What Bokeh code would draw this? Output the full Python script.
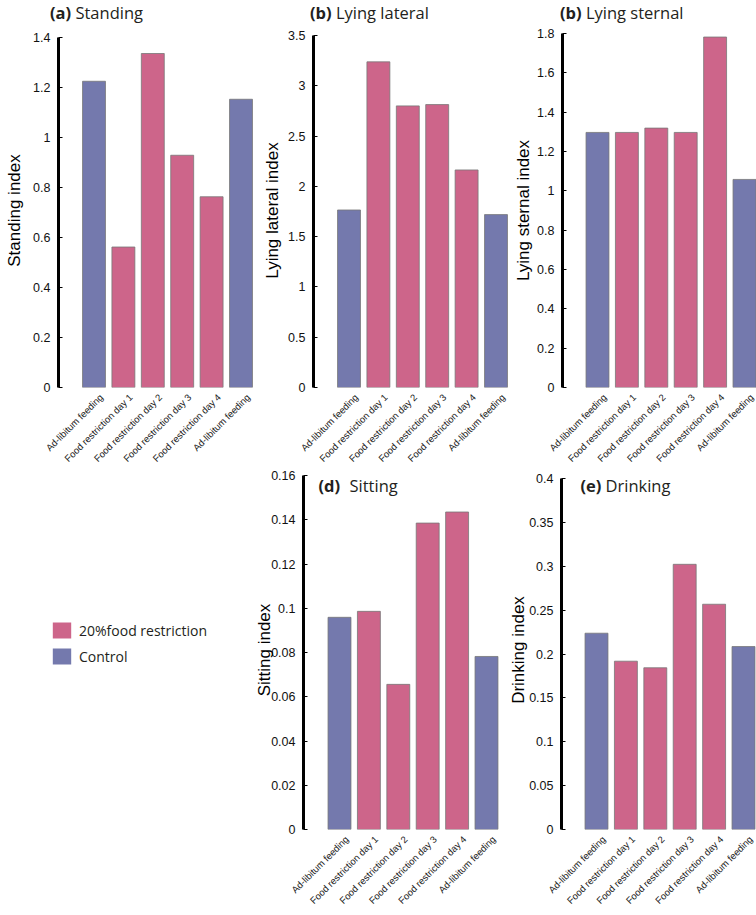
import math
from bokeh.plotting import figure
from bokeh.layouts import row, column
from bokeh.models import (Label, Legend, LegendItem, FixedTicker, NumeralTickFormatter,
                          Range1d, ColumnDataSource, Div)
from bokeh.embed import file_html
from bokeh.resources import INLINE

# ---------------- data ----------------
categories = ["Ad-libitum feeding", "Food restriction day 1", "Food restriction day 2",
              "Food restriction day 3", "Food restriction day 4", "Ad-libitum feeding"]
groups = ["Control", "20%food restriction", "20%food restriction",
          "20%food restriction", "20%food restriction", "Control"]

standing = [1.225, 0.562, 1.336, 0.929, 0.763, 1.153]
lying_lateral = [1.765, 3.238, 2.800, 2.813, 2.163, 1.719]
lying_sternal = [1.297, 1.297, 1.319, 1.297, 1.782, 1.058]
sitting = [0.0959, 0.0986, 0.0656, 0.1385, 0.1435, 0.0782]
drinking = [0.2237, 0.1918, 0.1843, 0.3022, 0.2567, 0.2085]

standing_ticks = [0, 0.2, 0.4, 0.6, 0.8, 1, 1.2, 1.4]
lateral_ticks = [0, 0.5, 1, 1.5, 2, 2.5, 3, 3.5]
sternal_ticks = [0, 0.2, 0.4, 0.6, 0.8, 1, 1.2, 1.4, 1.6, 1.8]
sitting_ticks = [0, 0.02, 0.04, 0.06, 0.08, 0.1, 0.12, 0.14, 0.16]
drinking_ticks = [0, 0.05, 0.1, 0.15, 0.2, 0.25, 0.3, 0.35, 0.4]

group_colors = {"20%food restriction": "#CD658A", "Control": "#7479AD"}
legend_labels = ["20%food restriction", "Control"]

PITCH = 29.4          # px between bar centres
LABEL_SHIFT = 0.25
TITLE_FONT = "Open Sans"
AXIS_FONT = "Liberation Sans"
TITLE_COLOR = "#231f20"


def panel(vals, ticks, ylabel, W, H, mbl, mbr, mbt, mbb, first_off, top_off,
          lab_standoff, title=None):
    """first_off: px from axis to first bar centre; top_off: px from frame top to top tick."""
    ymax = ticks[-1]
    fw = W - mbl - mbr
    fh = H - mbt - mbb
    xs = -first_off / PITCH
    xe = xs + fw / PITCH
    ye = ymax * fh / (fh - top_off)
    p = figure(width=W, height=H, x_range=Range1d(xs, xe), y_range=Range1d(0, ye),
               output_backend="svg", toolbar_location=None,
               min_border_left=mbl, min_border_right=mbr,
               min_border_top=mbt, min_border_bottom=mbb)
    p.outline_line_color = None
    p.grid.visible = False
    p.background_fill_color = "white"
    p.border_fill_color = "white"

    src = ColumnDataSource(dict(x=list(range(len(vals))), top=vals,
                                color=[group_colors[g] for g in groups]))
    p.vbar(x="x", top="top", width=0.78, source=src, fill_color="color",
           line_color="#777777", line_width=0.8)

    ya = p.yaxis[0]
    ya.ticker = FixedTicker(ticks=ticks)
    ya.bounds = (0, ymax)
    ya.formatter = NumeralTickFormatter(format="0.[00]")
    ya.axis_line_width = 3
    ya.axis_line_color = "black"
    ya.major_tick_in = 4
    ya.major_tick_out = 0
    ya.major_tick_line_color = "black"
    ya.minor_tick_line_color = None
    ya.major_label_standoff = 8
    ya.major_label_text_font = AXIS_FONT
    ya.major_label_text_font_size = "12.5px"
    ya.major_label_text_color = "#111111"
    ya.axis_label = ylabel
    ya.axis_label_text_font = AXIS_FONT
    ya.axis_label_text_font_size = "17px"
    ya.axis_label_text_font_style = "normal"
    ya.axis_label_text_color = "black"
    ya.axis_label_standoff = lab_standoff

    xa = p.xaxis[0]
    xt = [i + LABEL_SHIFT for i in range(len(categories))]
    xa.ticker = FixedTicker(ticks=xt)
    xa.major_label_overrides = {t: c for t, c in zip(xt, categories)}
    xa.major_label_orientation = math.pi / 4
    xa.axis_line_color = None
    xa.major_tick_line_color = None
    xa.minor_tick_line_color = None
    xa.major_label_standoff = 2
    xa.major_label_text_font = AXIS_FONT
    xa.major_label_text_font_size = "9.5px"
    xa.major_label_text_color = "#222222"

    if title is not None:
        letter, word, letter_px, word_px, title_py = title  # px relative to axis / frame top
        ty = ye * (fh - title_py) / fh
        p.add_layout(Label(x=xs + letter_px / PITCH, y=ty, text=letter,
                           text_font=TITLE_FONT, text_font_style="bold",
                           text_font_size="16.5px", text_baseline="middle",
                           text_align="left", text_color=TITLE_COLOR))
        p.add_layout(Label(x=xs + word_px / PITCH, y=ty, text=word,
                           text_font=TITLE_FONT, text_font_size="16.5px",
                           text_baseline="middle", text_align="left",
                           text_color=TITLE_COLOR))
    return p


def title_div(letter, word, W, pad):
    return Div(text="<b>%s</b> %s" % (letter, word), width=W, height=26, margin=0,
               styles={"font-family": TITLE_FONT, "font-size": "16.5px",
                       "color": TITLE_COLOR, "padding-left": "%dpx" % pad,
                       "line-height": "26px", "white-space": "nowrap",
                       "box-sizing": "border-box"})


TOP_FIG_H = 444
BOT_H = 443

pa = panel(standing, standing_ticks, "Standing index", 258, TOP_FIG_H, 58, 2, 7, 83,
           35.5, 4, 6)
pb = panel(lying_lateral, lateral_ticks, "Lying lateral index", 251, TOP_FIG_H, 55, 1, 7, 83,
           35.5, 2, 3)
pc = panel(lying_sternal, sternal_ticks, "Lying sternal index", 247, TOP_FIG_H, 53, 0, 7, 83,
           35, 0, 1)

pd = panel(sitting, sitting_ticks, "Sitting index", 254, BOT_H, 53, 4, 0, 84,
           36, 5, -6, title=("(d)", "Sitting", 15, 46, 15))
pe = panel(drinking, drinking_ticks, "Drinking index", 252, BOT_H, 57, 0, 0, 84,
           35, 8, -2, title=("(e)", "Drinking", 19, 44, 15))

# legend panel
pl = figure(width=250, height=BOT_H, x_range=(0, 1), y_range=(0, 1),
            x_axis_type=None, y_axis_type=None, output_backend="svg",
            toolbar_location=None, min_border_left=0, min_border_right=0,
            min_border_top=0, min_border_bottom=84)
pl.outline_line_color = None
pl.grid.visible = False
rends = []
for lab in legend_labels:
    r = pl.vbar(x=[0.5], top=[0], bottom=[0], width=0.0, fill_color=group_colors[lab],
                line_color=None)
    rends.append(r)
leg = Legend(items=[LegendItem(label=lab, renderers=[r]) for lab, r in zip(legend_labels, rends)],
             location=(50, 163), glyph_width=23, glyph_height=20, label_height=20,
             label_standoff=6, spacing=6, padding=0, margin=0,
             border_line_color=None, background_fill_alpha=0,
             label_text_font=TITLE_FONT, label_text_font_size="14px",
             label_text_color=TITLE_COLOR)
pl.add_layout(leg)

top = row(column(title_div("(a)", "Standing", 258, 50), pa, spacing=0),
          column(title_div("(b)", "Lying lateral", 251, 52), pb, spacing=0),
          column(title_div("(b)", "Lying sternal", 247, 51), pc, spacing=0),
          spacing=0)
bottom = row(pl, pd, pe, spacing=0)
layout = column(top, bottom, spacing=0)

open("out.html", "w").write(file_html(layout, INLINE))
